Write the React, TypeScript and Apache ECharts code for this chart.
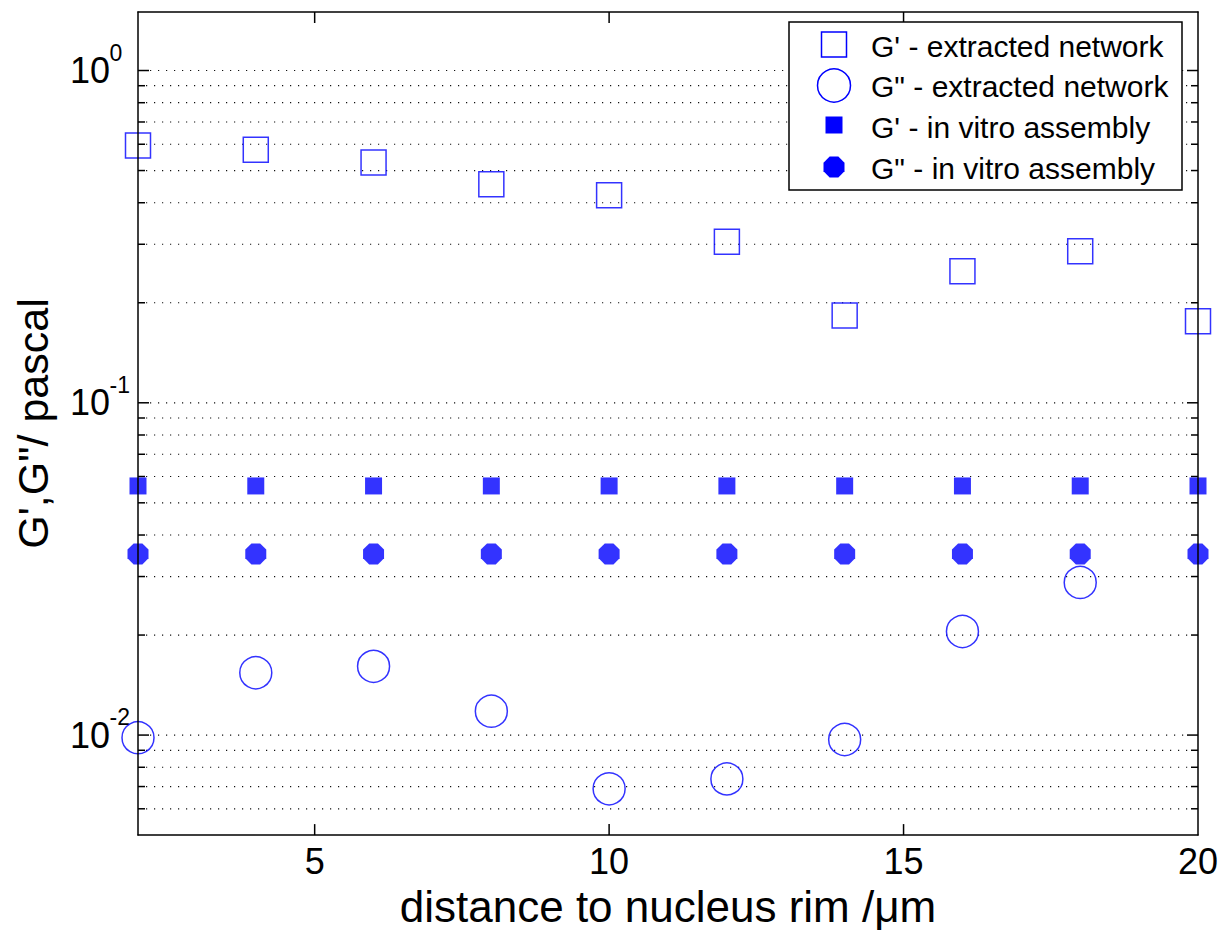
import React, { useEffect, useRef } from 'react';
import * as echarts from 'echarts';

// ---------- data ----------
const distances = [2, 4, 6, 8, 10, 12, 14, 16, 18, 20];
const gPrimeExtracted = [0.595, 0.577, 0.529, 0.455, 0.421, 0.305, 0.183, 0.249, 0.286, 0.176];
const gDoublePrimeExtracted = [0.00982, 0.0154, 0.0161, 0.0118, 0.00689, 0.00738, 0.0097, 0.0205, 0.0288, null];
const gPrimeInVitro = [0.0562, 0.0562, 0.0562, 0.0562, 0.0562, 0.0562, 0.0562, 0.0562, 0.0562, 0.0562];
const gDoublePrimeInVitro = [0.0351, 0.0351, 0.0351, 0.0351, 0.0351, 0.0351, 0.0351, 0.0351, 0.0351, 0.0351];
const seriesNames = [
  "G' - extracted network",
  'G" - extracted network',
  "G' - in vitro assembly",
  'G" - in vitro assembly',
];
const xTickValues = [5, 10, 15, 20];
const yMajorTicks = [0.01, 0.1, 1];
const yMinorTicks = [
  0.006, 0.007, 0.008, 0.009,
  0.02, 0.03, 0.04, 0.05, 0.06, 0.07, 0.08, 0.09,
  0.2, 0.3, 0.4, 0.5, 0.6, 0.7, 0.8, 0.9,
];
const xRange = [2, 20];
const yRange = [0.005, 1.5];
const xAxisTitle = 'distance to nucleus rim /μm';
const yAxisTitle = 'G\',G"/ pascal';

const FONT = '"Liberation Sans", Arial, Helvetica, sans-serif';
const BLUE = '#0000ff';
const OCTAGON = 'path://M29.3,0 L70.7,0 L100,29.3 L100,70.7 L70.7,100 L29.3,100 L0,70.7 L0,29.3 Z';

export default function App() {
  const ref = useRef<HTMLDivElement>(null);

  useEffect(() => {
    if (!ref.current) return;
    const chart = echarts.init(ref.current, null, { renderer: 'svg' });

    const pairs = (ys: (number | null)[]) =>
      distances.map((x, i) => (ys[i] == null ? [x, NaN] : [x, ys[i]]));

    const yTickData = [
      ...yMajorTicks.map((v) => [xRange[0], v, 1]),
      ...yMinorTicks.map((v) => [xRange[0], v, 0]),
    ];
    const xTickData = xTickValues.filter((v) => v < xRange[1]).map((v) => [v, yRange[0]]);

    const axisLineStyle = { show: true, onZero: false, lineStyle: { color: '#000', width: 1.5 } };

    const legendRows = [
      { y: 44.5, kind: 'hollowSquare' },
      { y: 85.5, kind: 'hollowCircle' },
      { y: 125, kind: 'filledSquare' },
      { y: 167, kind: 'filledOct' },
    ];
    const legendTextY = [46, 86.5, 127, 168];
    const lx = 834;
    const legendElems: any[] = [
      {
        type: 'rect',
        shape: { x: 789, y: 22, width: 393, height: 168 },
        style: { fill: '#fff', stroke: '#000', lineWidth: 1.5 },
        z: 100,
      },
    ];
    legendRows.forEach((r, i) => {
      if (r.kind === 'hollowSquare') {
        legendElems.push({
          type: 'rect',
          shape: { x: lx - 12.5, y: r.y - 12.5, width: 25, height: 25 },
          style: { fill: '#fff', stroke: BLUE, lineWidth: 1.5 },
          z: 101,
        });
      } else if (r.kind === 'hollowCircle') {
        legendElems.push({
          type: 'circle',
          shape: { cx: lx, cy: r.y, r: 16.5 },
          style: { fill: '#fff', stroke: BLUE, lineWidth: 1.5 },
          z: 101,
        });
      } else if (r.kind === 'filledSquare') {
        legendElems.push({
          type: 'rect',
          shape: { x: lx - 8.5, y: r.y - 8.5, width: 17, height: 17 },
          style: { fill: BLUE },
          z: 101,
        });
      } else {
        const R = 10.5;
        const a = R * 0.414;
        legendElems.push({
          type: 'polygon',
          shape: {
            points: [
              [lx - a, r.y - R], [lx + a, r.y - R], [lx + R, r.y - a], [lx + R, r.y + a],
              [lx + a, r.y + R], [lx - a, r.y + R], [lx - R, r.y + a], [lx - R, r.y - a],
            ],
          },
          style: { fill: BLUE },
          z: 101,
        });
      }
      legendElems.push({
        type: 'text',
        x: 871,
        y: legendTextY[i],
        style: {
          text: seriesNames[i],
          fill: '#000',
          fontSize: 30,
          fontFamily: FONT,
          align: 'left',
          verticalAlign: 'middle',
        },
        z: 101,
      });
    });

    chart.setOption({
      animation: false,
      backgroundColor: '#fff',
      grid: { left: 138, top: 12, right: 33, bottom: 92 },
      xAxis: [
        {
          type: 'value',
          min: xRange[0],
          max: xRange[1],
          interval: 1,
          position: 'bottom',
          z: 10,
          axisLine: axisLineStyle,
          axisTick: { show: false },
          splitLine: { show: false },
          axisLabel: {
            formatter: (v: number) => (xTickValues.includes(Math.round(v * 1000) / 1000) ? String(v) : ''),
            fontSize: 36,
            color: '#000',
            fontFamily: FONT,
            margin: 8,
          },
          name: xAxisTitle,
          nameLocation: 'middle',
          nameGap: 42,
          nameTextStyle: { fontSize: 44, color: '#000', fontFamily: FONT },
        },
        {
          type: 'value',
          min: xRange[0],
          max: xRange[1],
          position: 'top',
          z: 10,
          axisLine: axisLineStyle,
          axisTick: { show: false },
          splitLine: { show: false },
          axisLabel: { show: false },
        },
      ],
      yAxis: [
        {
          type: 'log',
          logBase: 10,
          min: yRange[0],
          max: yRange[1],
          position: 'left',
          z: 10,
          axisLine: axisLineStyle,
          axisTick: { show: false },
          splitLine: { show: false },
          axisLabel: { show: false },
          name: yAxisTitle,
          nameLocation: 'middle',
          nameGap: 84,
          nameRotate: 90,
          nameTextStyle: { fontSize: 43, color: '#000', fontFamily: FONT },
        },
        {
          type: 'log',
          logBase: 10,
          min: yRange[0],
          max: yRange[1],
          position: 'right',
          z: 10,
          axisLine: axisLineStyle,
          axisTick: { show: false },
          splitLine: { show: false },
          axisLabel: { show: false },
        },
      ],
      graphic: { elements: legendElems },
      series: [
        {
          type: 'custom',
          name: 'yGrid',
          xAxisIndex: 0,
          yAxisIndex: 0,
          z: 1,
          clip: false,
          silent: true,
          data: yTickData,
          renderItem: (params: any, api: any) => {
            const cs = params.coordSys;
            const v = api.value(1);
            const y = api.coord([api.value(0), v])[1];
            const major = api.value(2) === 1;
            const len = major ? 11 : 7;
            const left = cs.x;
            const right = cs.x + cs.width;
            const children: any[] = [
              {
                type: 'line',
                shape: { x1: left + len + 1, y1: y, x2: right - len - 1, y2: y },
                style: { stroke: '#111', lineWidth: 1.2, lineDash: [1.2, 6.8] },
              },
              {
                type: 'line',
                shape: { x1: left, y1: y, x2: left + len, y2: y },
                style: { stroke: '#000', lineWidth: 1.5 },
              },
              {
                type: 'line',
                shape: { x1: right - len, y1: y, x2: right, y2: y },
                style: { stroke: '#000', lineWidth: 1.5 },
              },
            ];
            if (major) {
              const exp = Math.round(Math.log10(v));
              children.push({
                type: 'text',
                x: left - 28,
                y: y,
                style: {
                  text: '10',
                  fontSize: 36,
                  fontFamily: FONT,
                  fill: '#000',
                  align: 'right',
                  verticalAlign: 'middle',
                },
              });
              children.push({
                type: 'text',
                x: left - 28.5,
                y: y - 18,
                style: {
                  text: String(exp),
                  fontSize: 23,
                  fontFamily: FONT,
                  fill: '#000',
                  align: 'left',
                  verticalAlign: 'middle',
                },
              });
            }
            return { type: 'group', children };
          },
        },
        {
          type: 'custom',
          name: 'xTicks',
          xAxisIndex: 0,
          yAxisIndex: 0,
          z: 1,
          silent: true,
          data: xTickData,
          renderItem: (params: any, api: any) => {
            const cs = params.coordSys;
            const x = api.coord([api.value(0), api.value(1)])[0];
            const len = 11;
            return {
              type: 'group',
              children: [
                {
                  type: 'line',
                  shape: { x1: x, y1: cs.y + cs.height, x2: x, y2: cs.y + cs.height - len },
                  style: { stroke: '#000', lineWidth: 1.5 },
                },
                {
                  type: 'line',
                  shape: { x1: x, y1: cs.y, x2: x, y2: cs.y + len },
                  style: { stroke: '#000', lineWidth: 1.5 },
                },
              ],
            };
          },
        },
        {
          type: 'scatter',
          name: seriesNames[0],
          z: 3,
          clip: false,
          symbol: 'rect',
          symbolSize: 25,
          itemStyle: { color: 'rgba(255,255,255,0)', borderColor: BLUE, borderWidth: 1.5 },
          data: pairs(gPrimeExtracted),
        },
        {
          type: 'scatter',
          name: seriesNames[1],
          z: 3,
          clip: false,
          symbol: 'circle',
          symbolSize: 32,
          itemStyle: { color: 'rgba(255,255,255,0)', borderColor: BLUE, borderWidth: 1.5 },
          data: pairs(gDoublePrimeExtracted),
        },
        {
          type: 'scatter',
          name: seriesNames[2],
          z: 3,
          clip: false,
          symbol: 'rect',
          symbolSize: 17,
          itemStyle: { color: BLUE },
          data: pairs(gPrimeInVitro),
        },
        {
          type: 'scatter',
          name: seriesNames[3],
          z: 3,
          clip: false,
          symbol: OCTAGON,
          symbolSize: 21,
          itemStyle: { color: BLUE },
          data: pairs(gDoublePrimeInVitro),
        },
      ],
    });

    return () => chart.dispose();
  }, []);

  return (
    <div
      ref={ref}
      style={{ position: 'absolute', left: 0, top: 0, width: 1231, height: 933, background: '#fff' }}
    />
  );
}
